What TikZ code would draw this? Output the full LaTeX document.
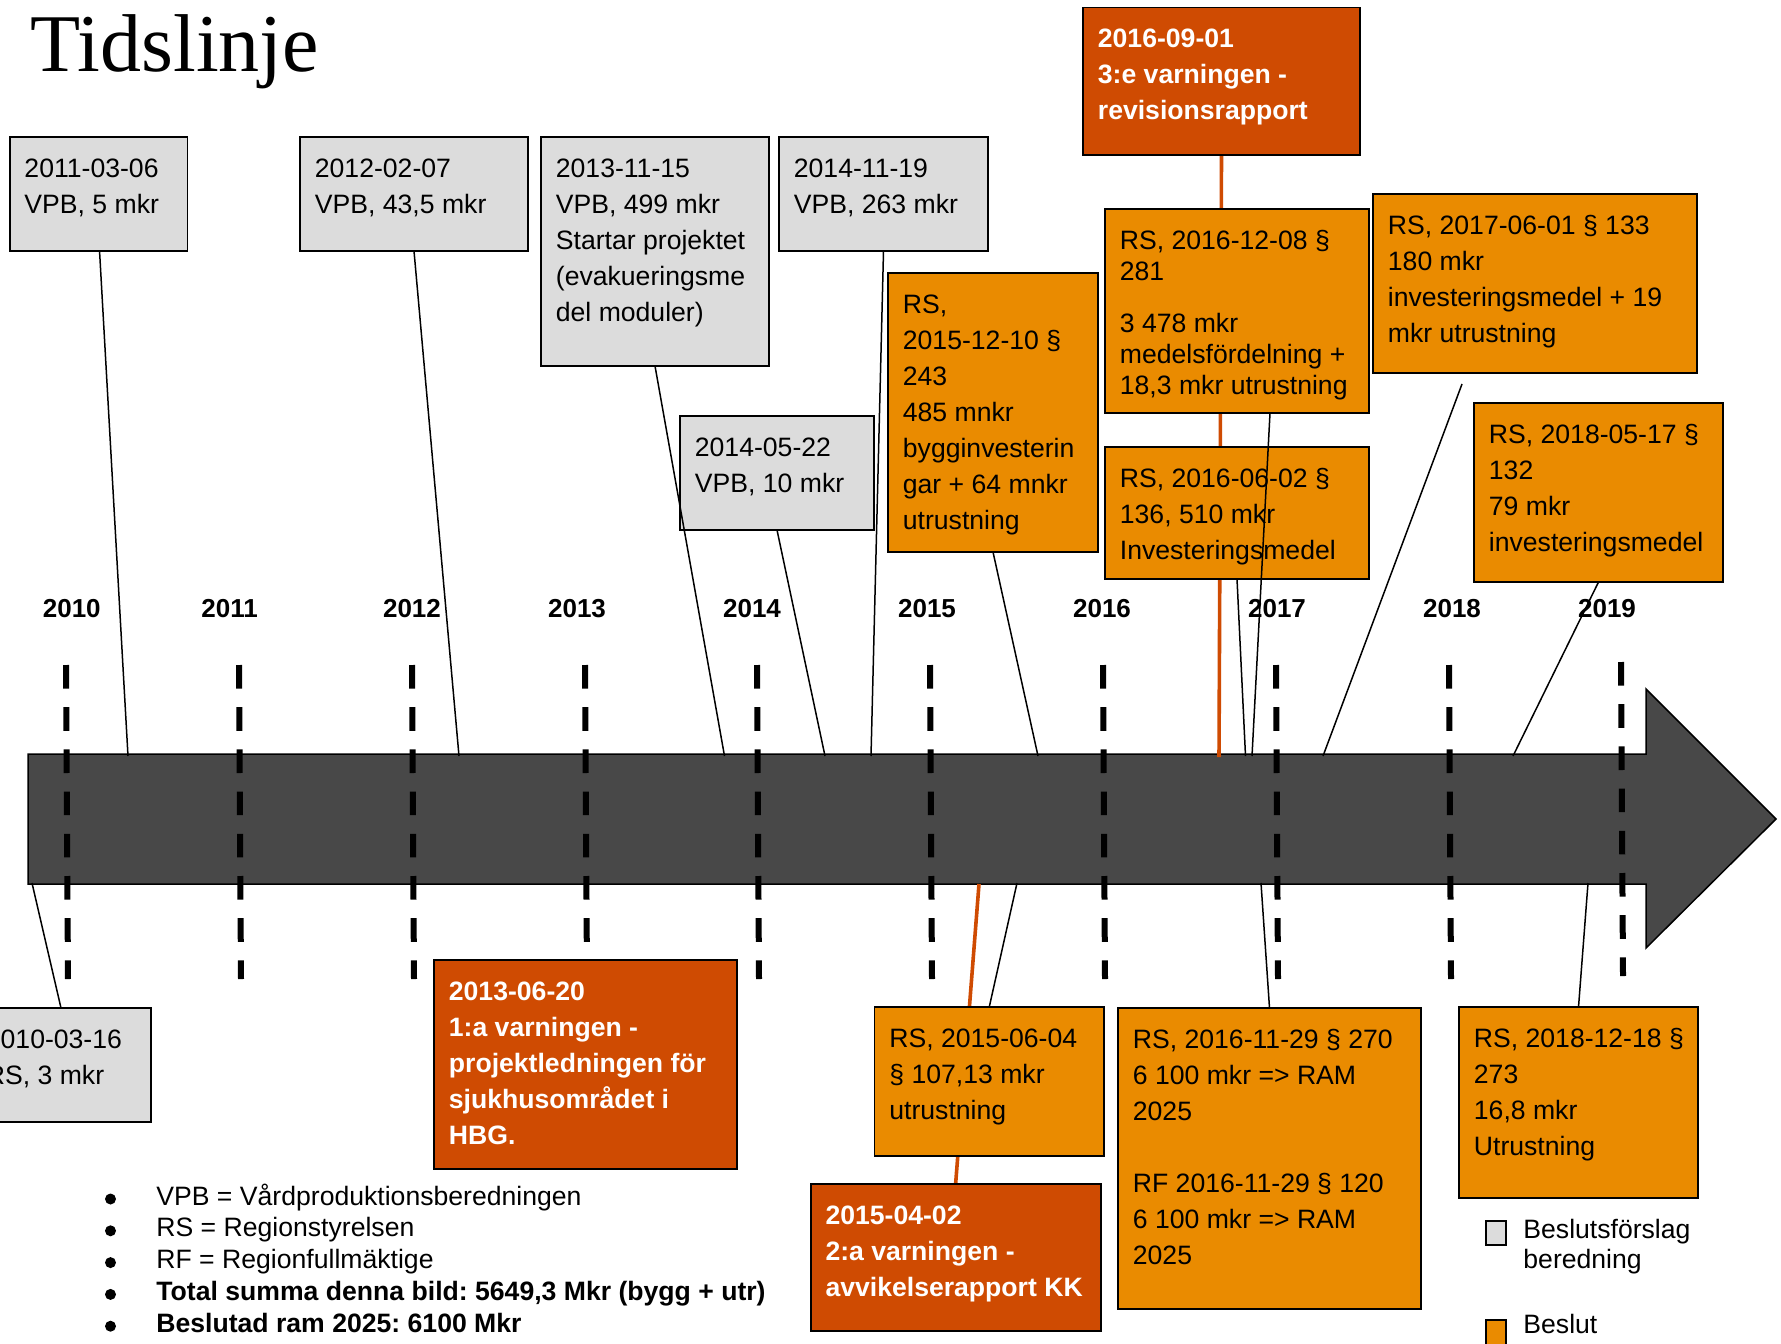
\documentclass[tikz,border=0pt]{standalone}
\usepackage{fontspec}
\setmainfont{Liberation Sans}
\newfontfamily\titlefont{Liberation Serif}
\usetikzlibrary{calc}
\frenchspacing

\definecolor{boxgray}{RGB}{220,220,220}
\definecolor{boxorange}{RGB}{234,139,0}
\definecolor{boxred}{RGB}{207,75,2}
\definecolor{arrowgray}{RGB}{72,72,72}

\pgfdeclarelayer{back}
\pgfdeclarelayer{links}
\pgfsetlayers{back,links,main}

% lines of a box text; the first baseline is the node's baseline
\newcommand\linestack[2][18pt]{\vtop{\baselineskip=#1\relax\lineskiplimit=-100pt
  \halign{##\hfil\cr#2\crcr}}}

% a box: [skip]{name}{style}{left}{top}{right}{bottom}{lines}
\newcommand\tlbox[8][18pt]{%
  \node[#3, anchor=north west,
        minimum width={((#6)-(#4))*0.5pt},
        minimum height={((#7)-(#5))*0.5pt}] (#2) at (#4,#5) {};
  \node[#3 text, anchor=base west, xshift=7.25pt, yshift=-20pt]
        (#2-text) at (#2.north west) {\linestack[#1]{#8}};
}

\tikzset{
  body/.style={font=\fontsize{13.3pt}{18pt}\selectfont},
  anybox/.style={draw=black, line width=0.9pt, inner sep=0pt, outer sep=0pt},
  graybox/.style={anybox, fill=boxgray},
  orangebox/.style={anybox, fill=boxorange},
  redbox/.style={anybox, fill=boxred},
  graybox text/.style={body, inner sep=0pt, text=black},
  orangebox text/.style={body, inner sep=0pt, text=black},
  redbox text/.style={body, inner sep=0pt, text=white, font=\fontsize{13.3pt}{18pt}\selectfont\bfseries},
  conn/.style={draw=black, line width=0.75pt},
  warnlink/.style={draw=boxred, line width=1.8pt},
  yeardash/.style={draw=black, line width=3pt, dash pattern=on 11.8pt off 9.3pt},
  yearlabel/.style={font=\fontsize{13pt}{16pt}\selectfont\bfseries, anchor=base, inner sep=0pt},
}

\begin{document}
\begin{tikzpicture}[x=0.5pt, y=-0.5pt]
\useasboundingbox (0,0) rectangle (1781,1343);

% title
\node[font=\titlefont\fontsize{41pt}{46pt}\selectfont, anchor=base west, inner sep=0pt]
  (title) at (30,72) {Tidslinje};

% the time arrow and the year markers
\begin{pgfonlayer}{back}
  \path[draw=black, line width=0.75pt, fill=arrowgray]
    (28,754) -- (1646,754) -- (1646,689) -- (1776,819) -- (1646,948)
    -- (1646,884) -- (28,884) -- cycle;
  \foreach \x in {66,239,412,585,757,930,1103,1276,1449}
    \draw[yeardash] (\x,665) -- (\x+2,979);
  \draw[yeardash] (1621,662) -- (1623,976);
\end{pgfonlayer}

% points on the arrow edges where the links end
\coordinate (e-g2011) at (128,756);
\coordinate (e-g2012) at (459,756);
\coordinate (e-g2013) at (724.5,756);
\coordinate (e-g2014a) at (825,756);
\coordinate (e-g2014b) at (871,756);
\coordinate (e-o2015d) at (1038,756);
\coordinate (e-r2016) at (1219,757);
\coordinate (e-o2016b) at (1245.5,756);
\coordinate (e-o2016d) at (1252,756);
\coordinate (e-o2017) at (1323,756);
\coordinate (e-o2018a) at (1513,756);
\coordinate (e-g2010) at (32,883);
\coordinate (e-r2015) at (979,884);
\coordinate (e-o2015a) at (1017,883);
\coordinate (e-o2016c) at (1261,883);
\coordinate (e-o2018b) at (1588,883);

% year labels
\foreach \yr/\x in {2010/71.8,2011/229.6,2012/412,2013/577,2014/752,
                    2015/927,2016/1102,2017/1277,2018/1452,2019/1607}
  \node[yearlabel] (y\yr) at (\x,617) {\yr};

% proposals (grey)
\tlbox{g2011}{graybox}{9.6}{137}{187.5}{251}{2011-03-06\cr VPB, 5 mkr}
\tlbox{g2012}{graybox}{300}{137}{528}{251}{2012-02-07\cr VPB, 43,5 mkr}
\tlbox{g2013}{graybox}{541}{137}{769}{366}{2013-11-15\cr VPB, 499 mkr\cr Startar projektet\cr (evakueringsme\cr del moduler)}
\tlbox{g2014b}{graybox}{779}{137}{988}{251}{2014-11-19\cr VPB, 263 mkr}
\tlbox{g2014a}{graybox}{680}{416}{874}{530}{2014-05-22\cr VPB, 10 mkr}
\tlbox{g2010}{graybox}{-29}{1008}{151}{1122}{2010-03-16\cr RS, 3 mkr}

% decisions (orange)
\tlbox{o2015d}{orangebox}{888}{273}{1098}{552}{RS,\cr 2015-12-10 §\cr 243\cr 485 mnkr\cr bygginvesterin\cr gar + 64 mnkr\cr utrustning}
\tlbox[15.5pt]{o2016d}{orangebox}{1105}{209}{1369}{413}{RS, 2016-12-08 §\cr 281\cr\noalign{\vskip10.5pt}3 478 mkr\cr medelsfördelning +\cr 18,3 mkr utrustning}
\tlbox{o2016b}{orangebox}{1105}{447}{1369}{579}{RS, 2016-06-02 §\cr 136, 510 mkr\cr Investeringsmedel}
\tlbox{o2017}{orangebox}{1373}{194}{1697}{373}{RS, 2017-06-01 § 133\cr 180 mkr\cr investeringsmedel + 19\cr mkr utrustning}
\tlbox{o2018a}{orangebox}{1474}{403}{1723}{582}{RS, 2018-05-17 §\cr 132\cr 79 mkr\cr investeringsmedel}
\tlbox{o2015a}{orangebox}{874.5}{1007}{1104}{1156}{RS, 2015-06-04\cr § 107,13 mkr\cr utrustning}
\tlbox{o2016c}{orangebox}{1118}{1008}{1421}{1309}{RS, 2016-11-29 § 270\cr 6 100 mkr => RAM\cr 2025\cr\cr RF 2016-11-29 § 120\cr 6 100 mkr => RAM\cr 2025}
\tlbox{o2018b}{orangebox}{1459}{1007}{1698}{1198}{RS, 2018-12-18 §\cr 273\cr 16,8 mkr\cr Utrustning}

% warnings (red)
\tlbox{r2016}{redbox}{1083}{7.5}{1360}{155}{2016-09-01\cr 3:e varningen -\cr revisionsrapport}
\tlbox{r2013}{redbox}{434}{960}{737}{1169}{2013-06-20\cr 1:a varningen -\cr projektledningen för\cr sjukhusområdet i\cr HBG.}
\tlbox{r2015}{redbox}{810.6}{1184}{1100.6}{1331}{2015-04-02\cr 2:a varningen -\cr avvikelserapport KK}

% warning links run behind the decision boxes
\begin{pgfonlayer}{links}
  \draw[warnlink] (r2016.south) -- (e-r2016);
  \draw[warnlink] (r2015.north) -- (e-r2015);
\end{pgfonlayer}

% links from the boxes to the arrow
\draw[conn] ($(g2011.south)+(1,0)$) -- (e-g2011);
\draw[conn] (g2012.south) -- (e-g2012);
\draw[conn] (g2013.south) -- (e-g2013);
\draw[conn] (g2014a.south) -- (e-g2014a);
\draw[conn] (g2014b.south) -- (e-g2014b);
\draw[conn] (o2015d.south) -- (e-o2015d);
\draw[conn] ($(o2016d.south)+(33,0)$) -- (e-o2016d);
\draw[conn] (o2016b.south) -- (e-o2016b);
\draw[conn] ($(o2017.south)+(-73,11)$) -- (e-o2017);
\draw[conn] (o2018a.south) -- (e-o2018a);
\draw[conn] (g2010.north) -- (e-g2010);
\draw[conn] (o2015a.north) -- (e-o2015a);
\draw[conn] (o2016c.north) -- (e-o2016c);
\draw[conn] (o2018b.north) -- (e-o2018b);

% abbreviations and totals, with round bullets
\foreach \b in {1205,1236.8,1268.6,1300.4,1332.2}
  \fill (110.5,\b-6) circle (2.75pt);
\node[body, anchor=base west, inner sep=0pt] (legend) at (156,1205)
  {\linestack[15.9pt]{VPB = Vårdproduktionsberedningen\cr
   RS = Regionstyrelsen\cr
   RF = Regionfullmäktige\cr
   \bfseries Total summa denna bild: 5649,3 Mkr (bygg + utr)\cr
   \bfseries Beslutad ram 2025: 6100 Mkr}};

% colour key
\node[graybox, anchor=north west, minimum width=10pt, minimum height=12pt] (key-gray) at (1486,1221) {};
\node[body, anchor=base west, inner sep=0pt] (key-gray-text) at (1523,1238)
  {\linestack[15pt]{Beslutsförslag\cr beredning}};
\node[orangebox, anchor=north west, minimum width=10pt, minimum height=15pt] (key-orange) at (1486,1320) {};
\node[body, anchor=base west, inner sep=0pt] (key-orange-text) at (1523,1333) {Beslut};
\end{tikzpicture}
\end{document}
